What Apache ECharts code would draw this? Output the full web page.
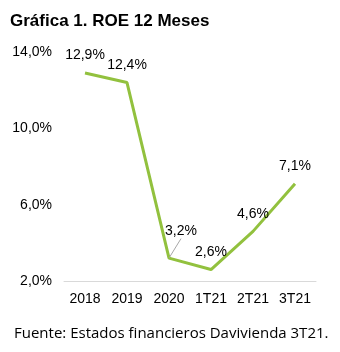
<!DOCTYPE html>
<html><head><meta charset="utf-8">
<script src="https://cdn.jsdelivr.net/npm/echarts@6/dist/echarts.min.js"></script>
<style>html,body{margin:0;padding:0;background:#fff}#c{width:340px;height:352px}</style>
</head><body><div id="c"></div>
<script>
const categories = ['2018','2019','2020','1T21','2T21','3T21'];
const roeValues = [12.9, 12.4, 3.2, 2.6, 4.6, 7.1];
const yTicks = [2, 6, 10, 14];
const titleText = 'Gráfica 1. ROE 12 Meses';
const sourceText = 'Fuente: Estados financieros Davivienda 3T21.';

const fmt = v => Number(v).toFixed(1).replace('.', ',') + '%';
const chart = echarts.init(document.getElementById('c'));
const seriesData = roeValues.map((v, i) => i === 2
  ? {value: v, labelLine: {show: true, lineStyle: {color: '#a6a6a6', width: 1}}}
  : {value: v});
chart.setOption({
  animation: false,
  title: [
    {text: titleText, left: 5, top: 8, textStyle: {fontFamily: 'Liberation Sans, Arial', fontWeight: 'bold', fontSize: 17, color: '#000'}},
    {text: sourceText, left: 9, top: 321, textStyle: {fontFamily: 'Open Sans', fontWeight: 'normal', fontSize: 15, color: '#000'}}
  ],
  grid: {left: 64, right: 24, top: 52, bottom: 71},
  xAxis: {
    type: 'category', data: categories, boundaryGap: true,
    axisLine: {lineStyle: {color: '#d9d9d9', width: 1}},
    axisTick: {show: false},
    axisLabel: {color: '#000', fontFamily: 'Liberation Sans, Arial', fontSize: 14, margin: 11}
  },
  yAxis: {
    type: 'value', min: yTicks[0], max: yTicks[yTicks.length - 1], interval: 4,
    axisLine: {show: false}, axisTick: {show: false}, splitLine: {show: false},
    axisLabel: {color: '#000', fontFamily: 'Liberation Sans, Arial', fontSize: 14, margin: 12, formatter: v => fmt(v)}
  },
  series: [{
    type: 'line', data: seriesData, symbol: 'circle', symbolSize: 1, showSymbol: true,
    itemStyle: {color: 'rgba(0,0,0,0)'},
    lineStyle: {color: '#92c13e', width: 3},
    label: {show: true, position: 'top', distance: 10, color: '#000', fontFamily: 'Liberation Sans, Arial', fontSize: 14, formatter: p => fmt(p.value)},
    labelLayout: function (p) {
      if (p.dataIndex === 2) return {dx: 12, dy: -9};
      return {};
    }
  }]
});
</script></body></html>
